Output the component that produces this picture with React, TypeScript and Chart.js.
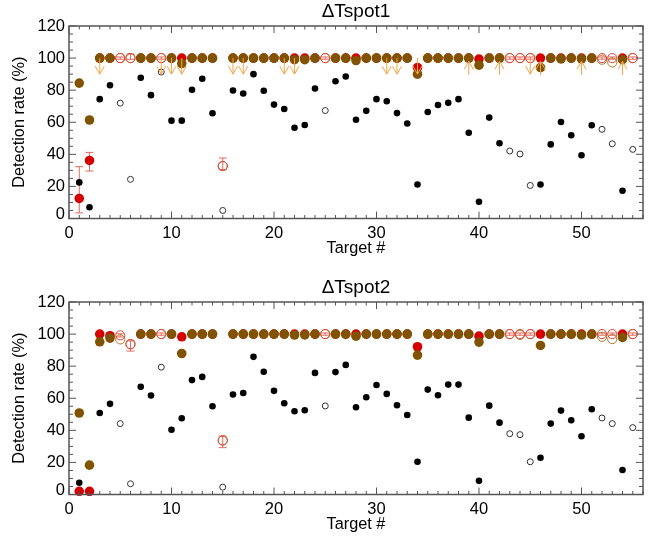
import React, { useEffect, useRef } from "react";
import { Chart, registerables } from "chart.js";
Chart.register(...registerables);

// ---------- data ----------
const TARGETS = [1,2,3,4,5,6,7,8,9,10,11,12,13,14,15,16,17,18,19,20,21,22,23,24,25,26,27,28,29,30,31,32,33,34,35,36,37,38,39,40,41,42,43,44,45,46,47,48,49,50,51,52,53,54,55];
const OPEN_TARGETS = [5, 6, 9, 15, 25, 43, 44, 45, 52, 53, 55];
const X_TICKS = [0, 10, 20, 30, 40, 50];
const Y_TICKS = [0, 20, 40, 60, 80, 100, 120];

const TOP_BLACK = [22.5, 7, 74.4, 83.1, 71.9, 24.4, 87.7, 76.9, 91.3, 61, 61, 80.2, 87.1, 65.6, 5, 79.8, 77.9, 90, 79.6, 71, 68.3, 56.6, 58.3, 81, 67.3, 85.6, 88.5, 61.6, 67.1, 74.4, 73.1, 65.7, 59.2, 21.2, 66.4, 70.8, 72.1, 74.4, 53.5, 10.4, 62.9, 46.9, 42.1, 40.2, 20.6, 21.2, 46.2, 60.2, 51.9, 39.4, 58.1, 55.6, 46.6, 17.3, 43.1];
const TOP_BROWN = [84.4, 61.4, 100, 100, 100, 100, 100, 100, 100, 100, 96.6, 100, 100, 100, 32.7, 100, 100, 100, 100, 100, 100, 99, 99, 100, 100, 100, 100, 98.5, 100, 100, 100, 100, 100, 90, 100, 100, 100, 100, 100, 95.6, 100, 100, 100, 100, 100, 94.1, 100, 99.5, 100, 99.5, 100, 99, 97.3, 99, 100];
const TOP_RED = [12.5, 36.2, 100, 100, 100, 100, 100, 100, 100, 100, 100, 100, 100, 100, 32.7, 100, 100, 100, 100, 100, 100, 100, 100, 100, 100, 100, 100, 100, 100, 100, 100, 100, 100, 94.1, 100, 100, 100, 100, 100, 99.4, 100, 100, 100, 100, 100, 100, 100, 100, 100, 100, 100, 100, 100, 100, 100];
const TOP_ERR_TARGETS = [1, 2, 5, 6, 9, 15, 25, 43, 44, 45, 52, 53, 55];
const TOP_ERR_LO = [3.5, 29.6, 99.3, 99.2, 99.3, 30.5, 99.3, 99.3, 99.3, 99.3, 99.3, 99.3, 99.3];
const TOP_ERR_HI = [32.3, 41.2, 100.7, 102.5, 100.7, 37.7, 100.7, 100.7, 100.7, 100.7, 100.7, 100.7, 100.7];
const TOP_ARROWS_DOWN = [3, 9, 10, 11, 16, 17, 21, 22, 31, 32, 34, 45];
const TOP_ARROWS_UP = [39, 42, 46, 50, 54];

const BOT_BLACK = [7.3, 1.3, 50.8, 56.5, 44.2, 6.7, 67.1, 61.7, 79.4, 40.4, 47.5, 71.3, 73.3, 55, 4.6, 62.3, 63.3, 85.8, 76.5, 64.6, 56.9, 51.9, 52.5, 75.8, 55.2, 76.3, 80.8, 54.4, 60.6, 68.3, 62.7, 55.6, 49.6, 20.4, 65.4, 61.9, 68.5, 68.5, 47.9, 8.5, 55.4, 44.8, 37.9, 37.3, 20.4, 22.9, 44.2, 52.3, 46.3, 36.3, 53.1, 47.7, 44.2, 15.3, 41.7];
const BOT_BROWN = [50.8, 18.3, 95.2, 97.5, 96.7, 93.7, 100, 100, 100, 100, 87.9, 100, 100, 100, 33.7, 100, 100, 100, 100, 100, 100, 99.4, 99.5, 100, 100, 100, 100, 98.7, 100, 100, 100, 100, 100, 86.9, 100, 100, 100, 100, 100, 95, 100, 100, 100, 99.5, 100, 92.9, 100, 100, 100, 99.4, 100, 98.3, 96.9, 97.9, 100];
const BOT_RED = [2, 2, 100, 99, 99.2, 93.7, 100, 100, 100, 100, 98.3, 100, 100, 100, 33.7, 100, 100, 100, 100, 100, 100, 100, 100, 100, 100, 100, 100, 100, 100, 100, 100, 100, 100, 92.1, 100, 100, 100, 100, 100, 98.7, 100, 100, 100, 100, 100, 100, 100, 100, 100, 100, 100, 100, 100, 100, 100];
const BOT_ERR_TARGETS = [5, 6, 9, 15, 25, 43, 44, 45, 52, 53, 55];
const BOT_ERR_LO = [98.2, 89.4, 99.3, 29.2, 99.3, 99.3, 99.3, 99.3, 99.3, 99.3, 99.3];
const BOT_ERR_HI = [100.2, 95.8, 100.7, 36.4, 100.7, 100.7, 100.7, 100.7, 100.7, 100.7, 100.7];
const BOT_ARROWS_DOWN: number[] = [];
const BOT_ARROWS_UP: number[] = [];

// ---------- styles ----------
const FONT = '"Liberation Sans", Arial, Helvetica, sans-serif';
const BLACK = "#000000";
const RED = "#d40000";
const BROWN = "#7f5300";
const RED_OPEN = "#e0453a";
const BROWN_OPEN = "#b07a30";
const ERR = "#e26a5e";
const ARROW = "#f5a445";
const FRAME = "#555555";

type Panel = {
  title: string;
  black: number[];
  brown: number[];
  red: number[];
  errT: number[];
  errLo: number[];
  errHi: number[];
  down: number[];
  up: number[];
};

const PANELS: Panel[] = [
  { title: "\u0394Tspot1", black: TOP_BLACK, brown: TOP_BROWN, red: TOP_RED, errT: TOP_ERR_TARGETS, errLo: TOP_ERR_LO, errHi: TOP_ERR_HI, down: TOP_ARROWS_DOWN, up: TOP_ARROWS_UP },
  { title: "\u0394Tspot2", black: BOT_BLACK, brown: BOT_BROWN, red: BOT_RED, errT: BOT_ERR_TARGETS, errLo: BOT_ERR_LO, errHi: BOT_ERR_HI, down: BOT_ARROWS_DOWN, up: BOT_ARROWS_UP },
];

const W = 668;
const H = 275;

function pts(vals: number[], open: boolean) {
  const out: { x: number; y: number }[] = [];
  TARGETS.forEach((t, i) => {
    const isOpen = OPEN_TARGETS.includes(t);
    if (isOpen === open && vals[i] != null) out.push({ x: t, y: vals[i] });
  });
  return out;
}

function line(ctx: CanvasRenderingContext2D, x1: number, y1: number, x2: number, y2: number) {
  ctx.beginPath();
  ctx.moveTo(x1, y1);
  ctx.lineTo(x2, y2);
  ctx.stroke();
}

function makePlugin(p: Panel) {
  return {
    id: "idlDecor",
    beforeDatasetsDraw(chart: any) {
      const { ctx, scales } = chart;
      const x = scales.x, y = scales.y;
      ctx.save();
      ctx.strokeStyle = ERR;
      ctx.lineWidth = 1;
      p.errT.forEach((t, i) => {
        const px = x.getPixelForValue(t);
        const y1 = y.getPixelForValue(p.errLo[i]);
        const y2 = y.getPixelForValue(p.errHi[i]);
        line(ctx, px, y1, px, y2);
        line(ctx, px - 4, y1, px + 4, y1);
        line(ctx, px - 4, y2, px + 4, y2);
      });
      ctx.restore();
    },
    afterDatasetsDraw(chart: any) {
      const { ctx, scales } = chart;
      const x = scales.x, y = scales.y;
      ctx.save();
      ctx.strokeStyle = ARROW;
      ctx.lineWidth = 1;
      p.down.forEach((t) => {
        const px = x.getPixelForValue(t);
        const y0 = y.getPixelForValue(100);
        const tip = y.getPixelForValue(90);
        line(ctx, px, y0, px, tip);
        line(ctx, px - 4.5, tip - 8, px, tip);
        line(ctx, px + 4.5, tip - 8, px, tip);
      });
      p.up.forEach((t) => {
        const px = x.getPixelForValue(t);
        const y0 = y.getPixelForValue(89.5);
        const tip = y.getPixelForValue(98);
        line(ctx, px, y0, px, tip);
        line(ctx, px - 4.5, tip + 8, px, tip);
        line(ctx, px + 4.5, tip + 8, px, tip);
      });
      ctx.restore();
    },
    afterDraw(chart: any) {
      const { ctx, chartArea: a, scales } = chart;
      const x = scales.x, y = scales.y;
      ctx.save();
      // frame
      ctx.strokeStyle = FRAME;
      ctx.lineWidth = 1.5;
      ctx.strokeRect(a.left, a.top, a.right - a.left, a.bottom - a.top);
      ctx.lineWidth = 1;
      // x ticks (bottom and top)
      for (let v = x.min; v <= x.max; v += 1) {
        const px = x.getPixelForValue(v);
        const len = v % 10 === 0 ? 7 : 3.5;
        line(ctx, px, a.bottom, px, a.bottom - len);
        line(ctx, px, a.top, px, a.top + len);
      }
      // y ticks (left and right)
      for (let v = y.min; v <= y.max; v += 5) {
        const py = y.getPixelForValue(v);
        const len = v % 20 === 0 ? 7 : 4;
        line(ctx, a.left, py, a.left + len, py);
        line(ctx, a.right, py, a.right - len, py);
      }
      ctx.fillStyle = "#000";
      // y tick labels (IDL lifts the lowest label off the axis)
      ctx.font = `16.5px ${FONT}`;
      ctx.textAlign = "right";
      ctx.textBaseline = "middle";
      Y_TICKS.forEach((v) => {
        const py = y.getPixelForValue(v) - (v === y.min ? 5 : 0);
        ctx.fillText(String(v), a.left - 4, py + 0.5);
      });
      // titles
      ctx.textAlign = "center";
      ctx.font = `19px ${FONT}`;
      ctx.fillText(p.title, (a.left + a.right) / 2, 12);
      ctx.font = `16.3px ${FONT}`;
      ctx.fillText("Target #", (a.left + a.right) / 2, a.bottom + 30);
      ctx.translate(20, (a.top + a.bottom) / 2);
      ctx.rotate(-Math.PI / 2);
      ctx.fillText("Detection rate (%)", 0, 0);
      ctx.restore();
    },
  };
}

function PanelChart({ panel, top }: { panel: Panel; top: number }) {
  const ref = useRef<HTMLCanvasElement | null>(null);
  useEffect(() => {
    if (!ref.current) return;
    const ds = (label: string, data: any[], opts: any) => ({
      label,
      data,
      showLine: false,
      clip: false,
      pointStyle: "circle",
      ...opts,
    });
    const chart = new Chart(ref.current, {
      type: "scatter",
      data: {
        datasets: [
          ds("red open", pts(panel.red, true), { order: 0, pointRadius: 4.6, pointBorderWidth: 1, pointBorderColor: RED_OPEN, pointBackgroundColor: "rgba(0,0,0,0)" }),
          ds("brown open", pts(panel.brown, true), { order: 1, pointRadius: 4.6, pointBorderWidth: 1, pointBorderColor: BROWN_OPEN, pointBackgroundColor: "rgba(0,0,0,0)" }),
          ds("brown", pts(panel.brown, false), { order: 2, pointRadius: 4.8, pointBorderWidth: 0, pointBackgroundColor: BROWN, pointBorderColor: BROWN }),
          ds("red", pts(panel.red, false), { order: 3, pointRadius: 4.8, pointBorderWidth: 0, pointBackgroundColor: RED, pointBorderColor: RED }),
          ds("black open", pts(panel.black, true), { order: 4, pointRadius: 3, pointBorderWidth: 1, pointBorderColor: "#333", pointBackgroundColor: "rgba(0,0,0,0)" }),
          ds("black", pts(panel.black, false), { order: 5, pointRadius: 3.3, pointBorderWidth: 0, pointBackgroundColor: BLACK, pointBorderColor: BLACK }),
        ],
      },
      options: {
        animation: false,
        responsive: false,
        events: [],
        layout: { padding: { top: 26, right: 25, left: 0, bottom: 0 } },
        plugins: { legend: { display: false }, tooltip: { enabled: false }, title: { display: false } },
        scales: {
          x: {
            type: "linear",
            min: 0,
            max: 56,
            grid: { display: false, drawTicks: false },
            border: { display: false },
            ticks: { color: "#000", font: { family: FONT, size: 16.5 }, padding: 5, maxRotation: 0, autoSkip: false },
            afterBuildTicks: (s: any) => { s.ticks = X_TICKS.map((v) => ({ value: v })); },
            afterFit: (s: any) => { s.height = H - 218.5; },
          },
          y: {
            type: "linear",
            min: 0,
            max: 120,
            grid: { display: false, drawTicks: false },
            border: { display: false },
            ticks: { display: false },
            afterBuildTicks: (s: any) => { s.ticks = Y_TICKS.map((v) => ({ value: v })); },
            afterFit: (s: any) => { s.width = 69; },
          },
        },
      } as any,
      plugins: [makePlugin(panel)],
    });
    return () => chart.destroy();
  }, [panel]);
  return (
    <canvas
      ref={ref}
      width={W}
      height={H}
      style={{ position: "absolute", left: 0, top, width: W, height: H, display: "block" }}
    />
  );
}

export default function App() {
  return (
    <div style={{ position: "absolute", left: 0, top: 0, width: 668, height: 550, background: "#fff" }}>
      <PanelChart panel={PANELS[0]} top={0} />
      <PanelChart panel={PANELS[1]} top={276} />
    </div>
  );
}
